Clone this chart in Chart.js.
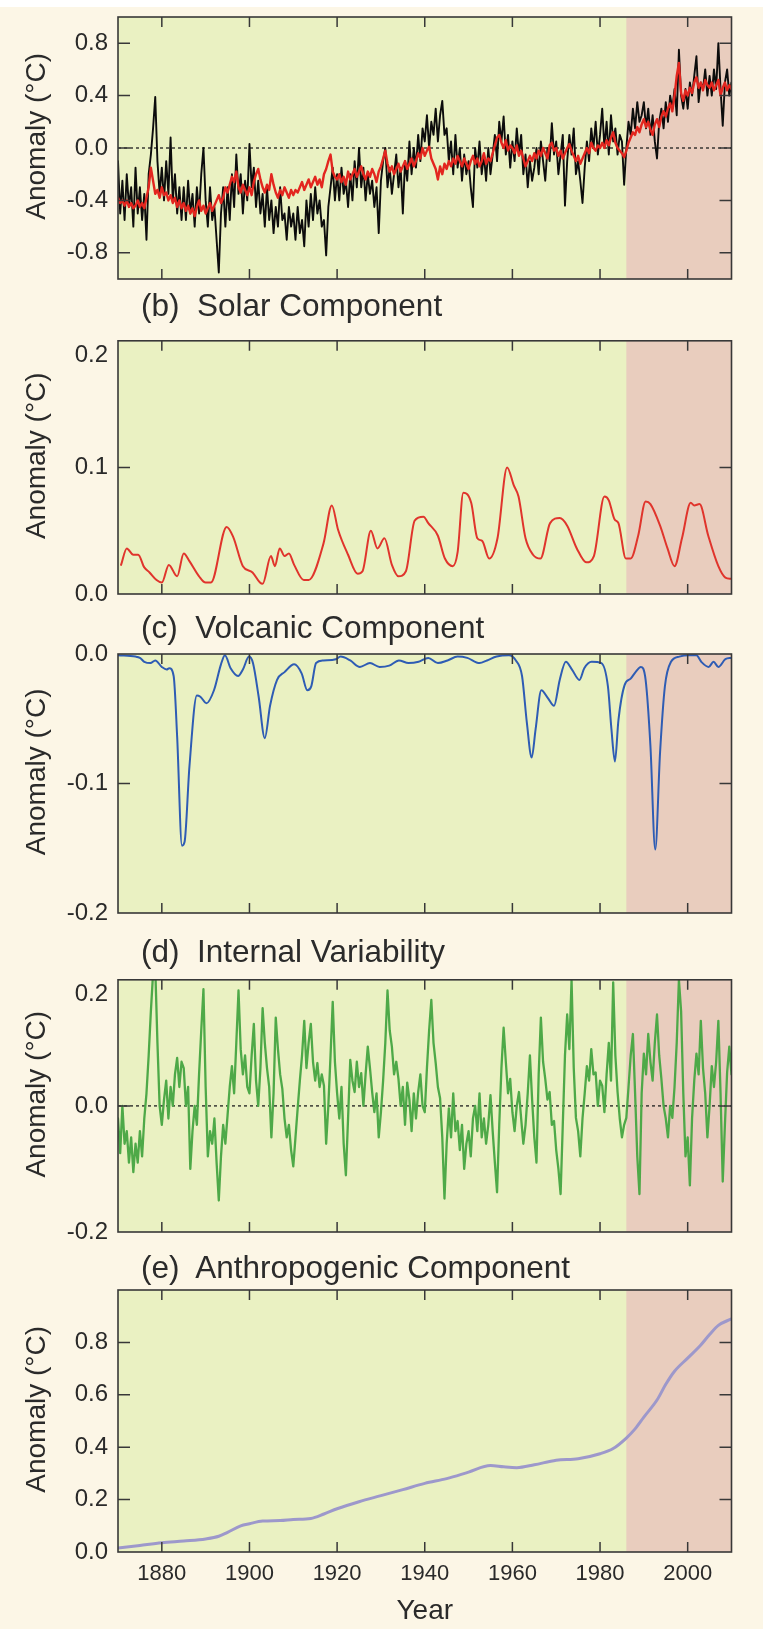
<!DOCTYPE html>
<html><head><meta charset="utf-8">
<script src="https://cdn.jsdelivr.net/npm/chart.js@4.4.0/dist/chart.umd.min.js"></script>
<style>
html,body{margin:0;padding:0;background:#FCF6E6;}
body{width:763px;height:1629px;position:relative;overflow:hidden;font-family:'Liberation Sans',Arial,sans-serif;}
.panel{position:absolute;left:0;width:763px;}
.ttl{position:absolute;left:141px;font-size:31.5px;line-height:31.5px;color:#2b2b2b;white-space:pre;z-index:5;}
.topstrip{position:absolute;left:0;top:0;width:763px;height:7px;background:#ffffff;z-index:6;}
</style></head><body>
<div class="topstrip"></div>
<div class="panel" id="pa"><canvas id="ca"></canvas></div>
<div class="panel" id="pb"><canvas id="cb"></canvas></div>
<div class="panel" id="pc"><canvas id="cc"></canvas></div>
<div class="panel" id="pd"><canvas id="cd"></canvas></div>
<div class="panel" id="pe"><canvas id="ce"></canvas></div>
<div class="ttl" style="top:290.3px">(b)  Solar Component</div>
<div class="ttl" style="top:612.3px">(c)  Volcanic Component</div>
<div class="ttl" style="top:936.3px">(d)  Internal Variability</div>
<div class="ttl" style="top:1252.3px">(e)  Anthropogenic Component</div>
<script>
// ---------------- DATA ----------------
const yearStart = 1870, yearEnd = 2010, halfYearStep = 0.5;
const splitYear = 1986;
const xTickYears = [1880, 1900, 1920, 1940, 1960, 1980, 2000];

// (a) observed (black) and modelled (red) anomaly, half-year steps 1870..2010
const observedAnomaly = [
-0.10,-0.50,-0.25,-0.55,-0.20,-0.45,-0.30,-0.60,-0.15,-0.50,
-0.30,-0.55,-0.35,-0.70,-0.20,-0.05,0.15,0.39,-0.10,-0.35,
-0.15,-0.40,-0.10,-0.35,0.08,-0.40,-0.20,-0.50,-0.30,-0.55,
-0.30,-0.55,-0.25,-0.50,-0.35,-0.60,-0.30,-0.50,-0.20,0.00,
-0.40,-0.60,-0.30,-0.55,-0.45,-0.70,-0.95,-0.50,-0.30,-0.60,
-0.30,-0.55,-0.20,-0.45,-0.05,-0.35,-0.20,-0.50,-0.25,-0.40,
0.03,-0.30,-0.15,-0.45,-0.25,-0.50,-0.35,-0.60,-0.30,-0.55,
-0.40,-0.65,-0.45,-0.60,-0.30,-0.55,-0.50,-0.70,-0.45,-0.60,
-0.50,-0.70,-0.45,-0.65,-0.55,-0.75,-0.40,-0.60,-0.35,-0.55,
-0.30,-0.50,-0.40,-0.60,-0.55,-0.82,-0.45,-0.30,-0.15,-0.40,
-0.20,-0.40,-0.15,-0.35,-0.25,-0.45,-0.20,-0.40,-0.10,-0.30,
0.00,-0.30,-0.15,-0.40,-0.20,-0.35,-0.25,-0.45,-0.30,-0.65,
-0.25,-0.10,0.00,-0.30,-0.15,-0.35,-0.20,-0.05,-0.30,-0.15,
-0.50,-0.10,-0.25,0.05,-0.20,0.00,-0.15,0.10,-0.10,0.15,
0.05,0.25,0.00,0.20,0.10,0.30,0.05,0.25,0.36,0.10,
0.15,-0.10,0.05,-0.20,0.10,-0.15,0.00,-0.25,-0.05,-0.20,
-0.10,-0.30,-0.45,0.00,-0.15,0.05,-0.20,-0.05,-0.25,0.00,
-0.20,-0.05,0.10,-0.10,0.20,0.05,0.24,-0.05,0.10,-0.15,
0.05,-0.10,0.15,-0.05,0.10,-0.20,-0.05,-0.30,-0.10,-0.25,
-0.15,0.00,-0.20,0.05,-0.10,-0.25,0.00,-0.10,0.19,-0.05,
0.05,-0.20,-0.05,0.10,-0.44,-0.10,0.10,-0.05,0.15,-0.20,
-0.10,-0.25,-0.42,-0.15,0.05,-0.10,0.15,0.00,0.20,-0.05,
0.10,0.30,0.00,0.20,-0.05,0.25,0.05,0.15,-0.05,0.10,
0.05,-0.28,0.00,0.20,0.10,0.30,0.15,0.35,0.20,0.25,
0.35,0.15,0.30,0.10,0.25,0.05,-0.08,0.20,0.30,0.15,
0.35,0.20,0.40,0.30,0.45,0.25,0.75,0.40,0.30,0.45,
0.30,0.50,0.40,0.55,0.70,0.35,0.50,0.45,0.60,0.40,
0.55,0.40,0.60,0.45,0.80,0.45,0.17,0.50,0.60,0.40,
0.50];
const modelledAnomaly = [
-0.38,-0.42,-0.40,-0.44,-0.40,-0.45,-0.42,-0.46,-0.44,-0.40,
-0.45,-0.42,-0.46,-0.38,-0.30,-0.15,-0.25,-0.35,-0.32,-0.38,
-0.30,-0.36,-0.34,-0.40,-0.36,-0.42,-0.38,-0.45,-0.40,-0.46,
-0.42,-0.48,-0.44,-0.50,-0.46,-0.52,-0.45,-0.40,-0.48,-0.44,
-0.50,-0.46,-0.42,-0.48,-0.44,-0.40,-0.36,-0.42,-0.38,-0.30,
-0.34,-0.28,-0.22,-0.26,-0.18,-0.30,-0.34,-0.28,-0.32,-0.36,
-0.30,-0.36,-0.26,-0.20,-0.16,-0.24,-0.30,-0.34,-0.28,-0.32,
-0.20,-0.28,-0.34,-0.38,-0.32,-0.36,-0.30,-0.34,-0.38,-0.32,
-0.36,-0.32,-0.34,-0.30,-0.26,-0.32,-0.28,-0.24,-0.30,-0.26,
-0.22,-0.28,-0.24,-0.30,-0.20,-0.16,-0.10,-0.05,-0.18,-0.22,
-0.24,-0.20,-0.26,-0.22,-0.28,-0.18,-0.24,-0.20,-0.16,-0.22,
-0.18,-0.14,-0.20,-0.24,-0.18,-0.22,-0.16,-0.20,-0.26,-0.18,
-0.14,-0.08,-0.02,-0.12,-0.18,-0.14,-0.20,-0.16,-0.12,-0.18,
-0.14,-0.10,-0.16,-0.12,-0.08,-0.14,-0.10,-0.04,-0.08,0.00,
-0.06,-0.02,0.01,-0.08,-0.12,-0.16,-0.24,-0.14,-0.20,-0.12,
-0.16,-0.10,-0.14,-0.08,-0.12,-0.06,-0.10,-0.14,-0.08,-0.12,
-0.16,-0.10,-0.06,-0.12,-0.08,-0.14,-0.10,-0.04,-0.12,-0.08,
-0.10,-0.04,0.02,0.08,0.10,0.04,0.00,0.06,-0.02,0.02,
0.00,-0.04,0.02,-0.06,-0.02,-0.08,-0.14,-0.10,-0.06,-0.10,
-0.04,-0.08,-0.02,-0.06,0.00,-0.04,-0.08,0.02,0.04,-0.02,
0.00,-0.06,-0.02,-0.08,-0.04,0.00,0.03,-0.02,-0.06,-0.10,
-0.06,-0.12,-0.08,-0.04,0.00,-0.04,0.04,0.00,-0.02,0.02,
0.00,0.04,0.00,0.06,0.02,0.08,0.12,0.04,0.00,-0.02,
-0.04,-0.07,-0.02,0.04,0.08,0.12,0.10,0.16,0.12,0.18,
0.22,0.16,0.20,0.14,0.10,0.18,0.22,0.16,0.24,0.28,
0.24,0.30,0.34,0.28,0.40,0.55,0.65,0.42,0.36,0.44,
0.40,0.46,0.42,0.50,0.54,0.46,0.50,0.44,0.52,0.48,
0.46,0.50,0.44,0.48,0.52,0.40,0.46,0.50,0.44,0.48,
0.45];

// (b) solar component
const solarYears = [1870.7,1872,1873.5,1874.6,1876,1877.2,1878.8,1880,1881.6,1883.5,1885,1886.3,1888.5,1890,1891.2,1894.8,1896.3,1898.5,1900.7,1902.4,1903,1904.9,1905.8,1906.9,1908,1909,1910.2,1912.4,1913.5,1916.9,1918.8,1920.2,1922.5,1924.7,1925.8,1927.7,1929.2,1930.8,1932.5,1934,1935.7,1937.7,1939.7,1940.8,1943,1944.6,1946.4,1947.5,1948.8,1950.6,1952,1953.1,1954.7,1956.6,1958.8,1960.3,1961.4,1963,1964.7,1966.4,1968.6,1970.8,1972.5,1974.7,1976.9,1978.6,1981,1982,1983.3,1984.2,1985.9,1987,1988.7,1990.4,1991.5,1993.7,1995.4,1997,1998.7,2000.7,2001.5,2002.7,2004.7,2007,2008.6,2010];
const solarValues = [0.023,0.036,0.031,0.031,0.021,0.017,0.011,0.009,0.023,0.014,0.032,0.026,0.014,0.009,0.009,0.053,0.045,0.022,0.017,0.009,0.008,0.030,0.022,0.036,0.030,0.032,0.023,0.011,0.011,0.040,0.070,0.051,0.031,0.016,0.018,0.050,0.036,0.044,0.023,0.014,0.018,0.058,0.061,0.056,0.046,0.028,0.022,0.033,0.080,0.072,0.044,0.042,0.028,0.044,0.100,0.086,0.077,0.044,0.031,0.028,0.056,0.060,0.054,0.036,0.025,0.030,0.077,0.074,0.059,0.056,0.028,0.028,0.046,0.073,0.071,0.054,0.036,0.022,0.044,0.072,0.070,0.071,0.046,0.022,0.013,0.012];

// (c) volcanic component
const volcanicYears = [1870,1874,1875,1876,1877.4,1878.5,1880,1881.1,1881.7,1882.7,1883.5,1884.6,1885.2,1886.3,1888,1888.8,1890.2,1891.9,1893.5,1894.4,1895.7,1897.4,1898.5,1899.9,1900.8,1902.1,1903.5,1904.7,1906.3,1908,1910.2,1911.9,1913.2,1914.1,1915.2,1916.9,1919.7,1920.8,1923,1925.2,1927.5,1929.7,1931.9,1934.1,1936.3,1938.6,1940.8,1943,1945.2,1947.5,1949.7,1952.5,1954.2,1956.4,1959.2,1960.8,1962.2,1963.3,1964.4,1965.3,1966.6,1968.1,1969.5,1970.8,1972.2,1973.6,1975.3,1976.4,1978.1,1980.3,1981.8,1982.6,1983.4,1984.2,1985.6,1987,1988.1,1989.3,1990.4,1991.5,1992.6,1993.7,1994.8,1996.2,1998.1,2000.3,2002,2003.1,2004.8,2005.9,2007,2008.6,2010];
const volcanicValues = [-0.001,-0.002,-0.003,-0.006,-0.007,-0.005,-0.010,-0.012,-0.011,-0.017,-0.064,-0.148,-0.145,-0.087,-0.032,-0.033,-0.038,-0.028,-0.008,-0.001,-0.011,-0.017,-0.012,-0.002,-0.007,-0.033,-0.065,-0.040,-0.020,-0.014,-0.008,-0.015,-0.028,-0.025,-0.007,-0.005,-0.004,-0.002,-0.005,-0.010,-0.007,-0.010,-0.009,-0.005,-0.007,-0.006,-0.003,-0.007,-0.005,-0.002,-0.003,-0.007,-0.005,-0.002,-0.001,-0.005,-0.017,-0.053,-0.080,-0.058,-0.028,-0.034,-0.040,-0.020,-0.006,-0.012,-0.020,-0.011,-0.006,-0.007,-0.025,-0.058,-0.083,-0.051,-0.024,-0.019,-0.014,-0.010,-0.020,-0.071,-0.151,-0.076,-0.025,-0.006,-0.002,-0.001,-0.001,-0.006,-0.010,-0.006,-0.010,-0.004,-0.003];

// (d) internal variability, half-year steps 1870..2010
const internalVariability = [
-0.02,-0.075,0.00,-0.06,-0.04,-0.09,-0.05,-0.105,-0.06,-0.09,
-0.04,-0.08,-0.02,0.02,0.08,0.15,0.21,0.22,0.10,0.00,
-0.03,0.01,0.04,-0.02,0.03,0.00,0.05,0.076,0.03,0.07,
0.06,0.00,0.03,-0.10,-0.04,0.00,-0.03,0.05,0.12,0.185,
0.03,-0.08,-0.04,-0.06,-0.02,-0.09,-0.15,-0.08,-0.03,-0.06,
-0.015,0.03,0.063,0.02,0.10,0.183,0.09,0.05,0.08,0.03,
0.02,0.08,0.13,0.04,0.00,0.06,0.155,0.10,0.06,0.03,
-0.05,0.02,0.14,0.09,0.05,0.027,-0.02,-0.05,-0.03,-0.07,
-0.096,-0.05,-0.004,0.04,0.08,0.135,0.06,0.10,0.13,0.07,
0.04,0.068,0.03,0.05,0.032,-0.06,0.00,0.08,0.165,0.07,
0.02,-0.02,0.03,-0.06,-0.11,-0.02,0.073,0.04,0.022,0.07,
0.03,0.052,0.00,0.05,0.094,0.06,0.022,-0.01,0.02,-0.05,
-0.01,0.04,0.10,0.183,0.12,0.094,0.05,0.07,0.043,0.00,
0.03,-0.03,0.037,0.01,-0.04,0.02,-0.02,0.022,0.05,0.00,
-0.01,0.06,0.12,0.168,0.10,0.068,0.03,0.012,-0.05,-0.147,
-0.06,-0.004,-0.05,0.02,-0.04,-0.024,-0.07,-0.03,-0.10,-0.06,
-0.04,-0.08,-0.02,0.00,-0.04,0.02,-0.05,-0.02,-0.06,-0.03,
0.017,-0.04,-0.09,-0.137,-0.03,0.06,0.124,0.07,0.02,0.043,
-0.01,-0.04,0.00,0.022,-0.02,-0.06,-0.03,0.02,0.08,0.01,
-0.05,-0.09,0.05,0.14,0.07,0.043,0.01,0.022,-0.03,-0.024,
-0.07,-0.10,-0.14,-0.03,0.08,0.145,0.09,0.20,0.06,-0.019,
-0.04,-0.08,-0.02,0.02,0.063,0.04,0.09,0.05,0.053,0.00,
0.04,0.032,-0.01,0.05,0.10,0.04,0.196,0.08,0.022,-0.02,
-0.05,-0.03,-0.019,0.03,0.08,0.114,0.02,-0.08,-0.14,0.02,
0.083,0.05,0.114,0.07,0.04,0.10,0.145,0.08,0.043,0.00,
-0.02,-0.05,0.00,-0.019,0.03,0.10,0.20,0.15,0.02,-0.08,
-0.05,-0.126,-0.02,0.04,0.083,0.05,0.135,0.06,0.02,-0.05,
0.00,0.063,0.03,0.07,0.135,0.02,-0.12,-0.03,0.053,0.094,
0.05];

// (e) anthropogenic component
const anthroYears = [1870,1875,1880,1885,1890,1893,1895,1898,1900,1903,1907,1910,1914,1917,1920,1925,1930,1935,1940,1945,1950,1955,1958,1961,1965,1970,1975,1980,1983,1986,1988,1990,1993,1995,1997,2000,2003,2005,2007,2010];
const anthroValues = [0.015,0.025,0.035,0.042,0.050,0.060,0.075,0.100,0.108,0.118,0.120,0.124,0.128,0.145,0.165,0.192,0.215,0.238,0.262,0.280,0.305,0.330,0.325,0.322,0.333,0.350,0.356,0.375,0.395,0.435,0.470,0.515,0.580,0.640,0.690,0.740,0.790,0.830,0.865,0.890];

// y tick values per panel
const yTicksA = [-0.8, -0.4, 0.0, 0.4, 0.8];
const yTicksB = [0.0, 0.1, 0.2];
const yTicksC = [-0.2, -0.1, 0.0];
const yTicksD = [-0.2, 0.0, 0.2];
const yTicksE = [0.0, 0.2, 0.4, 0.6, 0.8];

// ---------------- STYLE / LAYOUT ----------------
const FONT = "'Liberation Sans', Arial, Helvetica, sans-serif";
const COL_BG_GREEN = '#EAF1C2';
const COL_BG_PINK = '#E9CDBE';
const COL_FRAME = '#383838';
const COL_TEXT = '#2a2a2a';
const PLOT_LEFT = 118, PLOT_RIGHT = 731.5;
const PAD = 30;

Chart.defaults.font.family = FONT;
Chart.defaults.color = COL_TEXT;

const halfYears = observedAnomaly.map((_, i) => yearStart + i * halfYearStep);
const pairs = (xs, ys) => xs.map((x, i) => ({x: x, y: ys[i]}));

const decor = {
  id: 'decor',
  beforeDatasetsDraw(chart, args, opts) {
    const {ctx, chartArea: a, scales: {x, y}} = chart;
    ctx.save();
    ctx.fillStyle = COL_BG_GREEN;
    ctx.fillRect(a.left, a.top, a.right - a.left, a.bottom - a.top);
    const xs = x.getPixelForValue(splitYear);
    ctx.fillStyle = COL_BG_PINK;
    ctx.fillRect(xs, a.top, a.right - xs, a.bottom - a.top);
    if (opts.zeroLine) {
      const y0 = y.getPixelForValue(0);
      ctx.setLineDash([3, 3]);
      ctx.strokeStyle = '#1e1e1e';
      ctx.lineWidth = 1.3;
      ctx.beginPath(); ctx.moveTo(a.left, y0); ctx.lineTo(a.right, y0); ctx.stroke();
    }
    ctx.restore();
  },
  afterDatasetsDraw(chart, args, opts) {
    const {ctx, chartArea: a, scales: {x, y}} = chart;
    ctx.save();
    ctx.strokeStyle = COL_FRAME;
    ctx.lineWidth = 1.5;
    ctx.beginPath();
    xTickYears.forEach(yr => {
      const px = x.getPixelForValue(yr);
      ctx.moveTo(px, a.top); ctx.lineTo(px, a.top + 10);
      ctx.moveTo(px, a.bottom); ctx.lineTo(px, a.bottom - 10);
    });
    (opts.yTicks || []).forEach(v => {
      if (v <= y.min + 1e-9 || v >= y.max - 1e-9) return;
      const py = y.getPixelForValue(v);
      ctx.moveTo(a.left, py); ctx.lineTo(a.left + 12, py);
      ctx.moveTo(a.right, py); ctx.lineTo(a.right - 12, py);
    });
    ctx.stroke();
    ctx.lineWidth = 1.6;
    ctx.strokeRect(a.left, a.top, a.right - a.left, a.bottom - a.top);
    ctx.restore();
  }
};

function makePanel(cfg) {
  const wrap = document.getElementById(cfg.wrap);
  const isLast = !!cfg.showX;
  const top = cfg.plotTop - PAD;
  const plotH = cfg.plotBottom - cfg.plotTop;
  const h = isLast ? (1629 - top) : (plotH + 2 * PAD);
  wrap.style.top = top + 'px';
  wrap.style.height = h + 'px';
  const xAxisH = isLast ? (1629 - cfg.plotBottom) : 0;

  new Chart(document.getElementById(cfg.canvas), {
    type: 'line',
    data: {datasets: cfg.datasets},
    options: {
      responsive: true, maintainAspectRatio: false, animation: false,
      devicePixelRatio: 1, events: [],
      layout: {padding: {top: PAD, bottom: isLast ? 0 : PAD, left: 0, right: 763 - PLOT_RIGHT}},
      plugins: {legend: {display: false}, tooltip: {enabled: false},
        decor: {zeroLine: !!cfg.zeroLine, yTicks: cfg.yTicks}},
      elements: {point: {radius: 0}, line: {tension: 0, borderJoinStyle: 'round', borderCapStyle: 'round'}},
      scales: {
        x: {
          type: 'linear', min: yearStart, max: yearEnd, display: isLast,
          afterBuildTicks: s => { s.ticks = xTickYears.map(v => ({value: v})); },
          afterFit: s => { if (isLast) s.height = xAxisH; },
          grid: {display: false, drawTicks: false}, border: {display: false},
          ticks: {padding: 9, autoSkip: false, maxRotation: 0, color: COL_TEXT,
            font: {size: 22, family: FONT}, callback: v => String(v)},
          title: {display: isLast, text: 'Year', color: COL_TEXT,
            font: {size: 28, family: FONT}, padding: {top: 0, bottom: 1}}
        },
        y: {
          type: 'linear', min: cfg.yMin, max: cfg.yMax,
          afterBuildTicks: s => { s.ticks = cfg.yTicks.map(v => ({value: v})); },
          afterFit: s => { s.width = PLOT_LEFT; },
          grid: {display: false, drawTicks: false}, border: {display: false},
          ticks: {padding: 10, color: COL_TEXT, font: {size: 24, family: FONT},
            callback: v => {
              const t = Number(v).toFixed(1);
              return (cfg.shiftTopLabel && Math.abs(v - cfg.yMax) < 1e-9) ? ['', t] : t;
            }},
          title: {display: true, text: '\u00a0\u00a0\u00a0Anomaly (\u00b0C)', color: COL_TEXT,
            font: {size: 28, family: FONT}, padding: {top: 20, bottom: 0}}
        }
      }
    },
    plugins: [decor]
  });
}

makePanel({wrap: 'pa', canvas: 'ca', plotTop: 17, plotBottom: 279, yMin: -1, yMax: 1,
  yTicks: yTicksA, zeroLine: true,
  datasets: [
    {data: pairs(halfYears, modelledAnomaly), borderColor: '#E3261F', borderWidth: 2.4},
    {data: pairs(halfYears, observedAnomaly), borderColor: '#0c0c0c', borderWidth: 1.9}
  ]});
makePanel({wrap: 'pb', canvas: 'cb', plotTop: 332, plotBottom: 594, yMin: 0, yMax: 0.2,
  yTicks: yTicksB, shiftTopLabel: true,
  datasets: [{data: pairs(solarYears, solarValues), borderColor: '#E0342C', borderWidth: 2,
    cubicInterpolationMode: 'monotone'}]});
makePanel({wrap: 'pc', canvas: 'cc', plotTop: 654, plotBottom: 913, yMin: -0.2, yMax: 0,
  yTicks: yTicksC,
  datasets: [{data: pairs(volcanicYears, volcanicValues), borderColor: '#2E5CB4', borderWidth: 2,
    cubicInterpolationMode: 'monotone'}]});
makePanel({wrap: 'pd', canvas: 'cd', plotTop: 971, plotBottom: 1232, yMin: -0.2, yMax: 0.2,
  yTicks: yTicksD, zeroLine: true, shiftTopLabel: true,
  datasets: [{data: pairs(halfYears, internalVariability), borderColor: '#4EA948', borderWidth: 2.3}]});
makePanel({wrap: 'pe', canvas: 'ce', plotTop: 1290, plotBottom: 1552, yMin: 0, yMax: 1.0,
  yTicks: yTicksE, showX: true,
  datasets: [{data: pairs(anthroYears, anthroValues), borderColor: '#9D98CB', borderWidth: 3,
    cubicInterpolationMode: 'monotone'}]});
</script>
</body></html>
